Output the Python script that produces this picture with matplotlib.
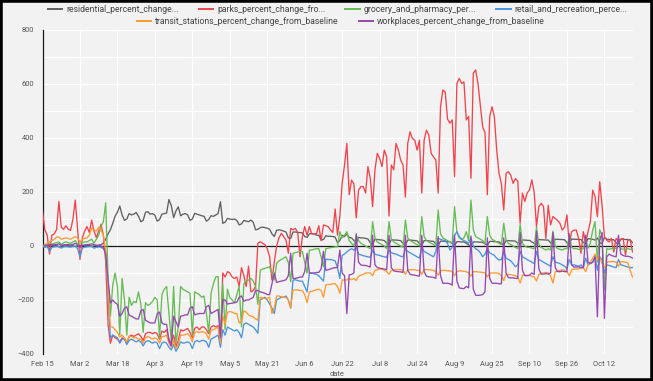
import matplotlib
matplotlib.use("Agg")
import matplotlib.pyplot as plt
import pandas as pd
from matplotlib.patches import Rectangle
from matplotlib.ticker import MultipleLocator, FixedLocator

start_date = "2020-02-15"

residential = [
    0, -2, 2, 3, 2, 1, 2,
    -3, -1, 2, 1, 1, 0, 1,
    -2, 0, 3, 1, 2, 1, 2,
    -1, 0, 1, 3, 5, 10, 25,
    45, 60, 84, 110, 125, 148, 115,
    95, 100, 120, 115, 118, 124, 110,
    90, 95, 125, 127, 118, 120, 114,
    92, 98, 118, 120, 122, 172, 150,
    105, 130, 145, 112, 118, 120, 115,
    95, 100, 121, 118, 115, 112, 110,
    92, 98, 112, 110, 115, 120, 164,
    84, 88, 102, 100, 98, 100, 95,
    78, 82, 95, 92, 90, 96, 88,
    60, 62, 68, 70, 68, 66, 62,
    45, 35, 58, 60, 58, 55, 52,
    30, 28, 52, 52, 50, 50, 48,
    35, 32, 45, 46, 45, 40, 40,
    22, 24, 38, 36, 36, 35, 33,
    12, 20, 40, 35, 45, 32, 30,
    20, 12, 32, 30, 30, 28, 26,
    12, 5, 25, 24, 23, 22, 20,
    10, 5, 24, 22, 22, 21, 20,
    10, 4, 22, 22, 21, 20, 19,
    9, 3, 20, 20, 19, 18, 17,
    8, 2, 18, 18, 17, 16, 16,
    8, 2, 16, 16, 15, 15, 10,
    4, 0, 15, 15, 15, 14, 14,
    8, 3, 17, 17, 16, 16, 15,
    9, 4, 20, 20, 19, 19, 18,
    10, 5, 22, 22, 21, 21, 15,
    10, 6, 24, 23, 23, 22, 22,
    12, 7, 25, 25, 24, 24, 23,
    12, 8, 26, 25, 25, 24, 24,
    14, 9, 27, 26, 25, 22, 30,
    12, 9, 32, 25, 24, 24, 23,
    12, 8, 25, 25, 24, 24, 23,
    12]

parks = [
    130, 60, 40, -30, 40, 45, 60,
    165, 70, 62, 75, 62, 58, 100,
    170, 60, -50, 30, 55, 72, 50,
    96, 55, 31, 55, 80, 40, -60,
    -290, -360, -330, -340, -345, -355, -340,
    -345, -360, -335, -330, -335, -330, -325,
    -335, -350, -325, -320, -320, -325, -320,
    -325, -345, -315, -320, -310, -345, -360,
    -330, -372, -350, -310, -315, -310, -305,
    -320, -340, -305, -300, -310, -300, -300,
    -310, -325, -300, -295, -300, -295, -355,
    -100, -115, -95, -100, -115, -120, -115,
    -150, -80, -110, -150, -75, -170, -165,
    -150, 10, 16, 10, 5, -10, -40,
    -126, -60, 0, 30, 47, 35, 22,
    -27, 65, 60, 65, 50, -40, 35,
    72, 40, 72, 45, 45, 45, 75,
    20, 78, 75, 72, 60, 50, 137,
    40, 110, 232, 300, 380, 190, 244,
    230, 104, 207, 220, 220, 196, 294,
    250, 146, 282, 343, 324, 294, 355,
    330, 111, 300, 282, 380, 355, 318,
    300, 181, 380, 423, 398, 392, 355,
    392, 196, 392, 429, 411, 343, 330,
    318, 196, 516, 578, 570, 470, 455,
    467, 257, 602, 621, 602, 608, 467,
    480, 251, 640, 652, 602, 520, 441,
    420, 190, 479, 516, 479, 355, 269,
    230, 133, 269, 275, 262, 232, 250,
    240, 84, 196, 165, 196, 208, 245,
    200, 72, 146, 158, 146, 28, 151,
    78, 109, 102, 95, 84, 59, 70,
    115, 4, 53, 59, 59, 28, -27,
    53, 10, 53, 90, 207, 183, 109,
    238, 150, 34, 22, 15, 28, -22,
    28, 20, 25, 28, -33, 22, 22,
    -22]

grocery = [
    0, -5, 5, 8, 6, 10, 12,
    15, 5, 12, 15, 12, 10, 15,
    20, 5, 10, 12, 15, 15, 20,
    25, 10, 25, 40, 72, 90, 160,
    -120, -260, -145, -100, -150, -330, -120,
    -200, -330, -190, -220, -205, -210, -170,
    -215, -320, -210, -220, -215, -205, -190,
    -200, -340, -180, -160, -150, -250, -350,
    -150, -360, -300, -150, -160, -165, -170,
    -175, -330, -170, -175, -180, -190, -185,
    -250, -320, -175, -140, -115, -113, -360,
    -140, -310, -160, -190, -200, -210, -180,
    -150, -300, -140, -130, -126, -120, -130,
    -150, -216, -90, -85, -83, -80, -77,
    -100, -126, -64, -55, -50, -45, -40,
    -60, -132, -27, -25, -22, -21, -21,
    -60, -101, -15, -15, -12, -10, -10,
    -40, -77, -10, -8, -6, -5, -3,
    -3, 53, 30, 40, 53, 20, 10,
    0, 40, 20, 10, 5, 0, -5,
    -10, 90, 30, 15, 10, 5, 0,
    -10, 90, 25, 15, 10, 5, 0,
    -5, 96, 30, 20, 15, 10, 5,
    0, 109, 35, 20, 15, 10, 5,
    0, 133, 45, 30, 25, 20, 15,
    10, 146, 50, 30, 25, 30, 53,
    20, 170, 60, 35, 30, 25, 20,
    10, 109, 40, 25, 20, 15, 10,
    5, 84, 20, 10, 5, 0, -5,
    -10, 80, 10, 0, -5, -5, -8,
    -10, 70, 5, -5, -10, -15, -10,
    -15, 55, 0, -10, -12, -15, -10,
    -10, 40, -5, -10, -10, -12, -15,
    -10, 30, -8, 10, 59, 90, -60,
    60, 40, -163, -10, -12, -10, -8,
    -10, 25, -10, -12, -15, -10, -12,
    -10]

retail = [
    0, -5, -2, -20, -5, -3, -2,
    -2, -8, -3, -2, -3, -4, -2,
    0, -10, -40, -8, -4, -3, -2,
    -1, -8, -5, -3, -5, -10, -25,
    -180, -340, -330, -335, -340, -360, -345,
    -345, -365, -350, -345, -350, -355, -350,
    -355, -370, -355, -350, -355, -360, -355,
    -360, -380, -360, -355, -360, -375, -385,
    -365, -390, -375, -355, -360, -358, -355,
    -360, -380, -355, -350, -355, -350, -350,
    -355, -375, -345, -340, -335, -330, -375,
    -310, -330, -300, -305, -310, -315, -310,
    -320, -340, -290, -285, -290, -295, -300,
    -310, -323, -200, -195, -190, -200, -215,
    -230, -250, -200, -195, -190, -190, -185,
    -200, -230, -126, -125, -128, -130, -130,
    -150, -170, -101, -100, -103, -105, -110,
    -120, -130, -48, -50, -50, -52, -55,
    -80, -120, -35, -30, -22, -15, -10,
    -15, -5, -30, -33, -36, -38, -40,
    -42, -15, -30, -33, -35, -38, -40,
    -42, -15, -25, -28, -30, -34, -38,
    -40, -10, -20, -25, -30, -35, -40,
    -45, -5, -20, -25, -30, -35, -40,
    -20, 28, 25, 22, 20, 10, -15,
    -5, 40, 53, 35, 25, 20, 16,
    10, 30, 0, -10, -15, -25, -40,
    -30, -10, -25, -30, -35, -45, -52,
    -50, -20, -45, -50, -55, -65, -77,
    -70, -20, -40, -45, -50, -55, -60,
    -65, -20, -50, -55, -60, -65, -70,
    -75, -40, -60, -62, -65, -70, -75,
    -85, -50, -70, -70, -72, -75, -70,
    -80, -45, -70, -65, -60, -40, -90,
    -40, -50, -100, -70, -72, -75, -78,
    -80, -50, -70, -72, -75, -78, -80,
    -80]

transit = [
    0, 5, 10, 15, 20, 25, 33,
    33, 25, 28, 30, 28, 25, 30,
    35, 30, 15, 25, 28, 30, 40,
    66, 60, 55, 70, 60, 40, -20,
    -160, -300, -300, -310, -320, -337, -330,
    -340, -355, -335, -335, -340, -340, -345,
    -345, -360, -340, -335, -340, -345, -340,
    -345, -360, -335, -335, -330, -360, -375,
    -350, -380, -365, -330, -330, -328, -325,
    -335, -355, -320, -318, -320, -318, -318,
    -325, -345, -312, -310, -305, -300, -360,
    -260, -290, -245, -243, -245, -250, -250,
    -285, -280, -240, -245, -255, -260, -262,
    -270, -275, -190, -192, -195, -193, -190,
    -250, -230, -185, -185, -188, -190, -190,
    -200, -230, -163, -163, -163, -165, -165,
    -180, -210, -170, -168, -165, -162, -160,
    -165, -190, -144, -143, -142, -140, -140,
    -150, -175, -126, -126, -126, -120, -125,
    -120, -128, -112, -108, -105, -100, -100,
    -100, -110, -90, -88, -86, -85, -90,
    -95, -105, -90, -88, -88, -87, -88,
    -90, -105, -88, -88, -87, -88, -90,
    -90, -105, -88, -87, -88, -89, -90,
    -95, -108, -92, -90, -90, -92, -92,
    -95, -110, -95, -92, -92, -94, -95,
    -100, -112, -95, -95, -96, -97, -98,
    -100, -115, -100, -100, -100, -100, -102,
    -110, -128, -105, -105, -106, -108, -110,
    -115, -137, -108, -108, -108, -110, -112,
    -115, -130, -105, -100, -100, -98, -100,
    -110, -137, -95, -92, -90, -88, -90,
    -95, -110, -88, -85, -85, -85, -82,
    -80, -95, -70, -60, -45, -30, -50,
    -40, -65, -80, -60, -58, -58, -57,
    -60, -75, -58, -58, -60, -62, -90,
    -115]

workplaces = [
    5, 2, 3, 5, 4, 5, 5,
    8, 3, 4, 5, 5, 4, 6,
    10, 4, -5, 3, 4, 5, 6,
    8, 5, 3, 2, 0, -5, -30,
    -126, -211, -200, -210, -216, -260, -250,
    -230, -225, -256, -260, -265, -270, -270,
    -240, -235, -275, -280, -285, -285, -285,
    -250, -245, -285, -290, -290, -350, -370,
    -260, -280, -300, -260, -258, -255, -255,
    -230, -225, -255, -252, -250, -250, -250,
    -225, -220, -250, -245, -240, -235, -340,
    -200, -200, -215, -213, -212, -210, -208,
    -190, -185, -205, -200, -200, -195, -190,
    -165, -165, -170, -172, -175, -180, -180,
    -140, -100, -135, -132, -130, -128, -125,
    -110, -27, -120, -120, -118, -115, -115,
    -95, -27, -100, -100, -100, -98, -98,
    -85, -20, -90, -88, -85, -82, -80,
    -80, -15, -100, -110, -250, -107, -105,
    -100, 45, -60, -70, -72, -72, -75,
    -78, 40, -70, -80, -82, -84, -85,
    -88, 40, -80, -92, -94, -95, -96,
    -98, 40, -90, -105, -107, -108, -110,
    -112, 40, -95, -112, -114, -115, -116,
    -120, 35, -110, -138, -138, -138, -140,
    -145, 41, -130, -155, -157, -158, -150,
    -155, 37, -160, -182, -183, -182, -180,
    -170, 30, -120, -138, -138, -138, -140,
    -140, 30, -100, -117, -118, -118, -120,
    -120, 50, -90, -110, -110, -108, -100,
    -105, 55, -85, -104, -104, -102, -104,
    -100, 50, -80, -95, -95, -93, -95,
    -95, 45, -70, -78, -78, -77, -80,
    -80, 40, -60, -65, -60, -40, -262,
    20, 50, -268, -40, -30, -35, -38,
    -40, 40, -30, -35, -38, -38, -40,
    -45]

series_values = [residential, parks, grocery, retail, transit, workplaces]
legend_labels = [
    "residential_percent_change...",
    "parks_percent_change_fro...",
    "grocery_and_pharmacy_per...",
    "retail_and_recreation_perce...",
    "transit_stations_percent_change_from_baseline",
    "workplaces_percent_change_from_baseline",
]
line_colors = ["#606060", "#f0444c", "#66bb55", "#4a93dd", "#ff9a33", "#9448b0"]

n = len(residential)
for s in series_values:
    assert len(s) == n, len(s)

dates = pd.date_range(start_date, periods=n, freq="D")
tick_dates = dates[::16]
tick_labels = [f"{d:%b} {d.day}" for d in tick_dates]

plt.rcParams["font.family"] = ["Roboto", "DejaVu Sans"]
bg = "#f2f2f2"
W, H = 653, 381
fig = plt.figure(figsize=(W / 100, H / 100), dpi=100, facecolor=bg)
ax = fig.add_axes([42.5 / W, 27 / H, (632.5 - 42.5) / W, 324 / H])
ax.set_facecolor(bg)

lines = []
for vals, col, lab in zip(series_values, line_colors, legend_labels):
    ln, = ax.plot(dates, vals, color=col, lw=0.95, label=lab, zorder=3,
                  solid_joinstyle="round")
    lines.append(ln)

ax.axhline(0, color="#1a1a1a", lw=0.9, zorder=2.5)

ax.set_xlim(dates[0], dates[-1])
ax.set_ylim(-400, 800)
ax.yaxis.set_major_locator(MultipleLocator(200))
ax.yaxis.set_minor_locator(MultipleLocator(100))
ax.xaxis.set_major_locator(FixedLocator(matplotlib.dates.date2num(tick_dates)))
ax.set_xticklabels(tick_labels)
ax.grid(True, which="both", color="white", lw=0.9, zorder=0)
ax.set_axisbelow(True)
ax.tick_params(axis="both", which="both", length=0, labelsize=5.4, colors="#555555")
ax.tick_params(axis="y", pad=6)
ax.tick_params(axis="x", pad=5)
for side in ["top", "right", "bottom"]:
    ax.spines[side].set_visible(False)
ax.spines["left"].set_color("#1a1a1a")
ax.spines["left"].set_linewidth(0.9)

ax.set_xlabel("date", fontsize=5.4, color="#555555", labelpad=2)

leg_kw = dict(frameon=False, fontsize=6.2, handlelength=1.7, handletextpad=0.45,
              columnspacing=2.3, borderaxespad=0, borderpad=0, labelcolor="#444444")
leg1 = fig.legend(handles=lines[:4], loc="center", ncol=4,
                  bbox_to_anchor=(337.5 / W, 1 - 10 / H), **leg_kw)
leg2 = fig.legend(handles=lines[4:], loc="center", ncol=2,
                  bbox_to_anchor=(341 / W, 1 - 22 / H), **leg_kw)
for leg in (leg1, leg2):
    for h in leg.legend_handles:
        h.set_linewidth(1.4)

fig.patches.append(Rectangle((0, 0), 1, 1, transform=fig.transFigure, fill=False,
                             edgecolor="black", lw=4, clip_on=False))

fig.savefig("out.png", dpi=100, facecolor=bg)
